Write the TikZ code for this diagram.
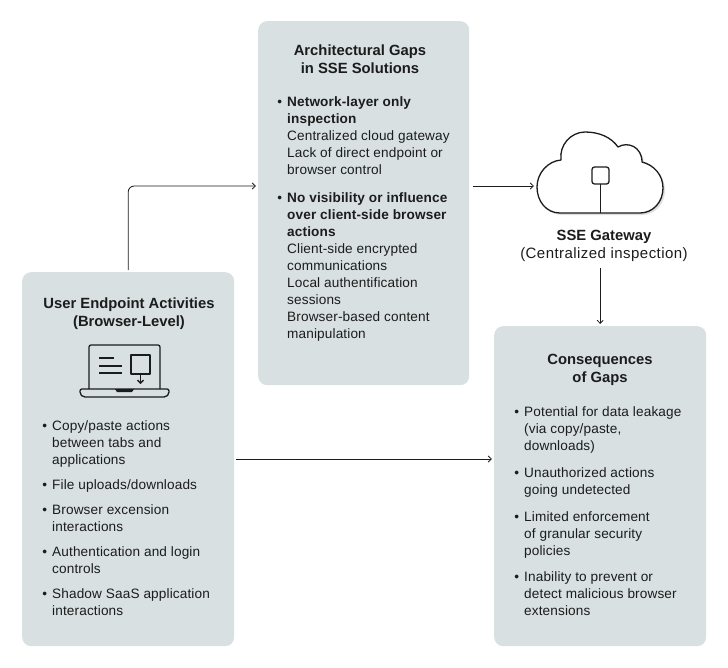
\documentclass[tikz,border=0pt]{standalone}
\usepackage{fontspec}
\setmainfont{Liberation Sans}
\usetikzlibrary{arrows.meta}
\definecolor{panelfill}{HTML}{D8E0E1}
\definecolor{ink}{HTML}{1C1C1C}
\newcommand{\itemmark}{\strut\makebox[0pt][r]{\textbullet\hspace{5pt}}}
\tikzset{
  x=1pt,y=-1pt,
  panel/.style={fill=panelfill,draw=none,rounded corners=9pt,inner sep=0pt,anchor=north west},
  titletext/.style={inner sep=0pt,align=center,text=ink,font=\fontsize{14.8}{18}\selectfont\bfseries},
  itemtext/.style={inner sep=0pt,anchor=north west,align=left,text=ink,font=\fontsize{13.6}{17}\selectfont\addfontfeatures{LetterSpace=1}},
  link/.style={draw=ink,line width=0.8pt,-{Straight Barb[length=3.2pt,width=6pt]},shorten <=2pt,shorten >=2pt},
  icon/.style={draw=ink,line width=1.3pt,line join=round},
}
\begin{document}
\begin{tikzpicture}
\useasboundingbox (0,0) rectangle (728,667);
% panels
\node[panel,minimum width=212pt,minimum height=374pt] (leftbox) at (22,272) {};
\node[panel,minimum width=211pt,minimum height=364pt] (midbox) at (258,21) {};
\node[panel,minimum width=212pt,minimum height=320pt] (consbox) at (494,326) {};
% titles
\node[titletext] (lefttitle) at (129,313.5) {User Endpoint Activities\\(Browser-Level)};
\node[titletext] (midtitle) at (360,59.5) {Architectural Gaps\\in SSE Solutions};
\node[titletext] (constitle) at (600,369.5) {Consequences\\of Gaps};
% left items
\node[itemtext] (l1) at (52,418.5) {\itemmark Copy/paste actions\\between tabs and\\applications};
\node[itemtext] (l2) at (52,477.5) {\itemmark File uploads/downloads};
\node[itemtext] (l3) at (52,502.5) {\itemmark Browser excension\\interactions};
\node[itemtext] (l4) at (52,544.5) {\itemmark Authentication and login\\controls};
\node[itemtext] (l5) at (52,586.5) {\itemmark Shadow SaaS application\\interactions};
% middle items
\node[itemtext] (m1) at (287,94.5) {\itemmark\textbf{Network-layer only}\\\textbf{inspection}\\Centralized cloud gateway\\Lack of direct endpoint or\\browser control};
\node[itemtext] (m2) at (287,190.5) {\itemmark\textbf{No visibility or influence}\\\textbf{over client-side browser}\\\textbf{actions}\\Client-side encrypted\\communications\\Local authentification\\sessions\\Browser-based content\\manipulation};
% right items
\node[itemtext] (r1) at (524,404.5) {\itemmark Potential for data leakage\\(via copy/paste,\\downloads)};
\node[itemtext] (r2) at (524,465.5) {\itemmark Unauthorized actions\\going undetected};
\node[itemtext] (r3) at (524,509.5) {\itemmark Limited enforcement\\of granular security\\policies};
\node[itemtext] (r4) at (524,569.5) {\itemmark Inability to prevent or\\detect malicious browser\\extensions};
% gateway label
\node[titletext,font=\fontsize{14.8}{18}\selectfont] (gwlabel) at (604,245.5) {\textbf{SSE Gateway}\\\addfontfeatures{LetterSpace=3}\fontsize{15}{18}\selectfont (Centralized inspection)};
% cloud
\coordinate (cloudwest) at (537,186);
\coordinate (flowy) at (0,459);
\path[fill=black!12,shift={(2,2)}]
  (560,213) .. controls (546,213) and (537,201) .. (537,187)
  .. controls (537,173) and (548,161) .. (561,160)
  .. controls (559,145) and (571,132) .. (585,132)
  .. controls (599,132) and (611,137) .. (618,147)
  .. controls (628,141) and (642,147) .. (642,162)
  .. controls (654,165) and (663,175) .. (663,188)
  .. controls (663,202) and (653,213) .. (640,213) -- cycle;
\draw[icon,fill=white]
  (560,213) .. controls (546,213) and (537,201) .. (537,187)
  .. controls (537,173) and (548,161) .. (561,160)
  .. controls (559,145) and (571,132) .. (585,132)
  .. controls (599,132) and (611,137) .. (618,147)
  .. controls (628,141) and (642,147) .. (642,162)
  .. controls (654,165) and (663,175) .. (663,188)
  .. controls (663,202) and (653,213) .. (640,213) -- cycle;
\draw[icon,rounded corners=2.5pt] (592,167) rectangle (609,184);
\draw[icon] (600.5,184) -- (600.5,213);
% laptop
\draw[icon,rounded corners=2pt] (89,389) -- (89,345) -- (160,345) -- (160,389);
\draw[icon,rounded corners=2pt] (80,389) -- (169,389) -- (169,394) -- (166,397) -- (83,397) -- (80,394) -- cycle;
\fill[ink] (115,389) -- (134,389) -- (132,392) -- (117,392) -- cycle;
\draw[icon] (99,358) -- (114,358) (99,366) -- (122,366) (99,373) -- (122,373);
\draw[icon] (131,355) rectangle (150,374);
\draw[icon,-{Straight Barb[length=3pt,width=6pt]}] (140.5,374) -- (140.5,384);
% connectors
\draw[link,rounded corners=6pt] (leftbox.north) |- (midbox.west |- cloudwest);
\draw[link,shorten <=4pt,shorten >=3pt] (midbox.east |- cloudwest) -- (cloudwest);
\draw[link,shorten <=1pt] (consbox.north |- gwlabel.south) ++(0,6) -- (consbox.north);
\draw[link] (leftbox.east |- flowy) -- (consbox.west |- flowy);
\end{tikzpicture}
\end{document}
